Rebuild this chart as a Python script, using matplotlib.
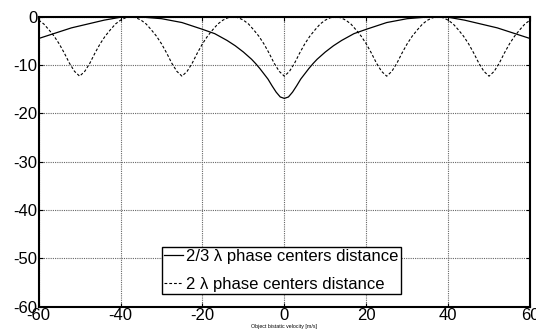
import numpy as np
import matplotlib
matplotlib.use("Agg")
import matplotlib.pyplot as plt

plt.rcParams["font.family"] = ["Liberation Sans", "DejaVu Sans"]
plt.rcParams["axes.unicode_minus"] = False

# solid curve: 2/3 lambda spacing
vel_solid = [-60, -56, -52, -48, -44, -40, -37.5, -35, -30, -25, -20, -17,
             -14, -12, -10, -8, -7, -6, -5, -4, -3, -2, -1, 0,
             1, 2, 3, 4, 5, 6, 7, 8, 10, 12, 14, 17,
             20, 25, 30, 35, 37.5, 40, 44, 48, 52, 56, 60]
db_solid = [-4.5, -3.4, -2.3, -1.5, -0.7, -0.1, 0.0, -0.05, -0.4, -1.2, -2.6, -3.5,
            -4.9, -6.0, -7.3, -8.8, -9.7, -10.7, -11.8, -12.9, -14.3, -15.6, -16.6, -16.9,
            -16.6, -15.6, -14.3, -12.9, -11.8, -10.7, -9.7, -8.8, -7.3, -6.0, -4.9, -3.5,
            -2.6, -1.2, -0.4, -0.05, 0.0, -0.1, -0.7, -1.5, -2.3, -3.4, -4.5]

# dashed curve: 2 lambda spacing, sampled every 1.25 m/s from -60 to 60
vel_dashed = np.linspace(-60, 60, 97)
db_dashed = [
    -0.7, -1.5, -2.7, -4.0, -5.6, -7.5, -9.6, -11.3, -12.3, -11.3,
    -9.6, -7.5, -5.6, -4.0, -2.7, -1.5, -0.7, -0.2, 0.0, -0.2,
    -0.7, -1.5, -2.7, -4.0, -5.6, -7.5, -9.6, -11.3, -12.3, -11.3,
    -9.6, -7.5, -5.6, -4.0, -2.7, -1.5, -0.7, -0.2, 0.0, -0.2,
    -0.7, -1.5, -2.7, -4.0, -5.6, -7.5, -9.6, -11.3, -12.3, -11.3,
    -9.6, -7.5, -5.6, -4.0, -2.7, -1.5, -0.7, -0.2, 0.0, -0.2,
    -0.7, -1.5, -2.7, -4.0, -5.6, -7.5, -9.6, -11.3, -12.3, -11.3,
    -9.6, -7.5, -5.6, -4.0, -2.7, -1.5, -0.7, -0.2, 0.0, -0.2,
    -0.7, -1.5, -2.7, -4.0, -5.6, -7.5, -9.6, -11.3, -12.3, -11.3,
    -9.6, -7.5, -5.6, -4.0, -2.7, -1.5, -0.7,
]

labels = ["2/3 \u03bb phase centers distance", "2 \u03bb phase centers distance"]
xticks = [-60, -40, -20, 0, 20, 40, 60]
yticks = [0, -10, -20, -30, -40, -50, -60]

fig = plt.figure(figsize=(5.36, 3.35), dpi=100)
ax = fig.add_axes([0.0722, 0.0845, 0.9166, 0.8655])

ax.plot(vel_solid, db_solid, color="black", lw=0.9, label=labels[0])
ax.plot(vel_dashed, db_dashed, color="black", lw=0.8, ls=(0, (2.5, 1.8)), label=labels[1])

ax.set_xlim(-60, 60)
ax.set_ylim(-60, 0)
ax.set_xticks(xticks)
ax.set_yticks(yticks)
ax.grid(True, color="0.4", ls=(0, (1, 1)), lw=0.8)
ax.tick_params(direction="in", top=True, right=True, length=3, width=0.8,
               labelsize=12, pad=1)
for s in ax.spines.values():
    s.set_linewidth(1.5)

ax.set_xlabel("Object bistatic velocity [m/s]", fontsize=3.8, labelpad=0.5)

leg = ax.legend(loc="lower left", bbox_to_anchor=(0.25, 0.043), fontsize=12,
                frameon=True, fancybox=False, edgecolor="black", framealpha=1,
                borderaxespad=0, borderpad=0.15, handlelength=1.15,
                handletextpad=0.15, labelspacing=0.75)
leg.get_frame().set_linewidth(1.0)

fig.savefig("out.png", dpi=100)
